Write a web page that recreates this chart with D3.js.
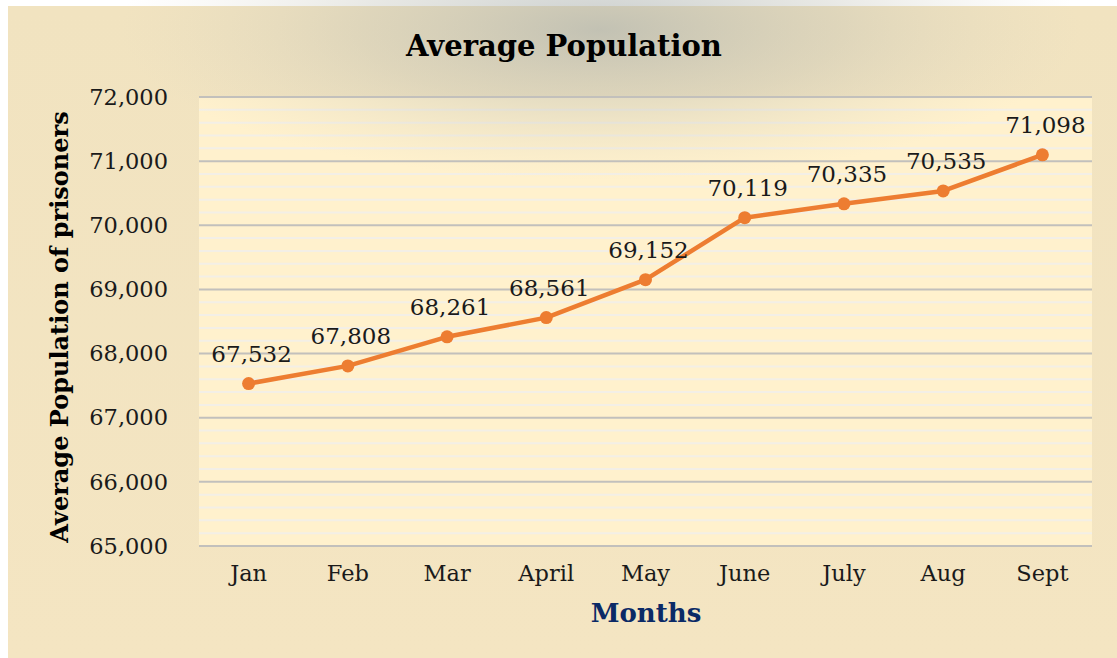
<!DOCTYPE html>
<html>
<head>
<meta charset="utf-8">
<script src="https://cdn.jsdelivr.net/npm/d3@7"></script>
<style>
  html, body { margin: 0; padding: 0; background: #ffffff; }
  svg { display: block; }
</style>
</head>
<body>
<svg id="chart"></svg>
<script>
const months = ["Jan", "Feb", "Mar", "April", "May", "June", "July", "Aug", "Sept"];
const population = [67532, 67808, 68261, 68561, 69152, 70119, 70335, 70535, 71098];
const yTicks = [65000, 66000, 67000, 68000, 69000, 70000, 71000, 72000];

const width = 1117, height = 658;
const svg = d3.select("#chart").attr("width", width).attr("height", height);
const plot = { left: 199, right: 1092, top: 97, bottom: 546 };

const defs = svg.append("defs");
const bgGrad = defs.append("linearGradient").attr("id", "bg")
    .attr("x1", 0).attr("y1", 0).attr("x2", 0).attr("y2", 1);
bgGrad.append("stop").attr("offset", "0%").attr("stop-color", "#f1e3c0");
bgGrad.append("stop").attr("offset", "100%").attr("stop-color", "#f4e5c2");

// gray haze near the title
const haze = defs.append("radialGradient").attr("id", "haze")
    .attr("cx", 0.5).attr("cy", 0.5).attr("r", 0.5);
haze.append("stop").attr("offset", "0%").attr("stop-color", "#a3abab").attr("stop-opacity", 0.6);
haze.append("stop").attr("offset", "50%").attr("stop-color", "#bcbdb2").attr("stop-opacity", 0.35);
haze.append("stop").attr("offset", "100%").attr("stop-color", "#d8d3c0").attr("stop-opacity", 0);

// chart area
svg.append("rect")
   .attr("x", 8).attr("y", 6)
   .attr("width", width - 8).attr("height", height - 6)
   .attr("fill", "url(#bg)");

const x = d3.scaleBand().domain(months).range([plot.left, plot.right]);
const y = d3.scaleLinear().domain([65000, 72000]).range([plot.bottom, plot.top]);

// plot area
svg.append("rect")
   .attr("x", plot.left).attr("y", plot.top)
   .attr("width", plot.right - plot.left).attr("height", plot.bottom - plot.top)
   .attr("fill", "#fff1cd");

// minor stripes
const minor = d3.range(65000, 72000, 200).filter(v => v % 1000 !== 0);
svg.append("g").selectAll("line")
   .data(minor)
   .enter()
   .append("line")
   .attr("x1", plot.left).attr("x2", plot.right)
   .attr("y1", d => y(d)).attr("y2", d => y(d))
   .attr("stroke", "#f3efe6")
   .attr("stroke-width", 2);

// haze overlay
svg.append("ellipse")
   .attr("cx", 600).attr("cy", 30)
   .attr("rx", 480).attr("ry", 150)
   .attr("fill", "url(#haze)");

// major gridlines
svg.append("g").selectAll("line")
   .data(yTicks)
   .enter()
   .append("line")
   .attr("x1", plot.left).attr("x2", plot.right)
   .attr("y1", d => y(d)).attr("y2", d => y(d))
   .attr("stroke", "#c2c0bc")
   .attr("stroke-width", 2);

// y axis
const yAxis = svg.append("g")
   .attr("transform", `translate(${plot.left - 31},0)`)
   .call(d3.axisLeft(y).tickValues(yTicks).tickFormat(d3.format(",")).tickSize(0).tickPadding(0));
yAxis.select(".domain").remove();
yAxis.selectAll("text")
   .attr("font-family", "'DejaVu Serif', serif")
   .attr("font-size", 22.5)
   .attr("fill", "#1a1a1a");

// x axis
const xAxis = svg.append("g")
   .attr("transform", `translate(0,${plot.bottom + 19})`)
   .call(d3.axisBottom(x).tickSize(0).tickPadding(0));
xAxis.select(".domain").remove();
xAxis.selectAll("text")
   .attr("font-family", "'DejaVu Serif', serif")
   .attr("font-size", 22.5)
   .attr("fill", "#1a1a1a");

// line + markers
const cx = d => x(d.m) + x.bandwidth() / 2;
const pts = months.map((m, i) => ({ m: m, v: population[i] }));

svg.append("path")
   .datum(pts)
   .attr("fill", "none")
   .attr("stroke", "#ed7d31")
   .attr("stroke-width", 4.5)
   .attr("stroke-linejoin", "round")
   .attr("d", d3.line().x(cx).y(d => y(d.v)));

svg.append("g").selectAll("circle")
   .data(pts)
   .enter()
   .append("circle")
   .attr("cx", cx)
   .attr("cy", d => y(d.v))
   .attr("r", 6.5)
   .attr("fill", "#ed7d31");

// data labels
svg.append("g").selectAll("text")
   .data(pts)
   .enter()
   .append("text")
   .attr("x", d => cx(d) + 3)
   .attr("y", d => y(d.v) - 22)
   .attr("text-anchor", "middle")
   .attr("font-family", "'DejaVu Serif', serif")
   .attr("font-size", 23)
   .attr("fill", "#1a1a1a")
   .text(d => d3.format(",")(d.v));

// titles
svg.append("text")
   .attr("x", 564).attr("y", 56)
   .attr("text-anchor", "middle")
   .attr("font-family", "'DejaVu Serif', serif")
   .attr("font-weight", "bold")
   .attr("font-size", 29)
   .attr("fill", "#000")
   .text("Average Population");

svg.append("text")
   .attr("transform", "translate(68,327) rotate(-90)")
   .attr("text-anchor", "middle")
   .attr("font-family", "'DejaVu Serif', serif")
   .attr("font-weight", "bold")
   .attr("font-size", 24)
   .attr("fill", "#000")
   .text("Average Population of prisoners");

svg.append("text")
   .attr("x", 646).attr("y", 622)
   .attr("text-anchor", "middle")
   .attr("font-family", "'DejaVu Serif', serif")
   .attr("font-weight", "bold")
   .attr("font-size", 26)
   .attr("fill", "#0b2a66")
   .text("Months");
</script>
</body>
</html>
